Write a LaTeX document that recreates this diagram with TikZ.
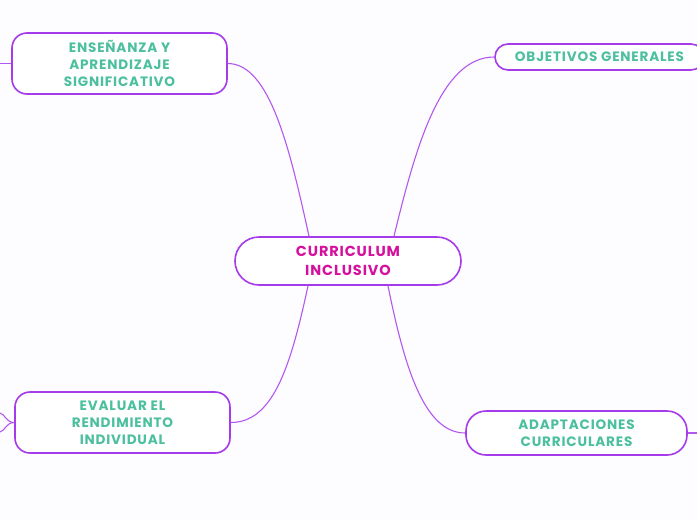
\documentclass[tikz,border=0pt]{standalone}
\usepackage{fontspec}
\setmainfont{Poppins}[LetterSpace=6]
\usepackage{tikz}
\usepackage{xcolor}
\usetikzlibrary{positioning}
\definecolor{mapviolet}{HTML}{A63BEB}
\definecolor{mapteal}{HTML}{4CC09E}
\definecolor{mapmagenta}{HTML}{D4119F}
\definecolor{mapbg}{HTML}{FDFCFE}
\tikzset{
  centralbox/.style={
    draw=mapviolet,
    fill=white,
    line width=1.6pt,
    align=center,
    inner sep=4pt,
    text=mapmagenta,
    font=\fontsize{14.5}{19}\selectfont\bfseries
  },
  topicbox/.style={
    draw=mapviolet,
    fill=white,
    line width=1.6pt,
    rounded corners=15pt,
    align=center,
    inner sep=4pt,
    text=mapteal,
    font=\fontsize{13.6}{17}\selectfont\bfseries
  },
  branch/.style={draw=mapviolet!85, line width=1.1pt}
}

\begin{document}
\begin{tikzpicture}[x=1pt, y=-1pt]
\fill[mapbg] (0,0) rectangle (697,520);
\useasboundingbox (0,0) rectangle (697,520);
\clip (0,0) rectangle (697,520);

\node[centralbox, minimum width=226, minimum height=48, rounded corners=24pt] (core) at (348,261) {CURRICULUM\\INCLUSIVO};

\node[topicbox, minimum width=215, minimum height=61] (ense) at (119.5,63.5) {ENSEÑANZA Y\\APRENDIZAJE\\SIGNIFICATIVO};
\node[topicbox, minimum width=209, minimum height=26, rounded corners=13pt] (obj) at (599.5,57) {OBJETIVOS GENERALES};
\node[topicbox, minimum width=215, minimum height=61] (eval) at (122.5,422.5) {EVALUAR EL\\RENDIMIENTO\\INDIVIDUAL};
\node[topicbox, minimum width=221, minimum height=44, rounded corners=20pt] (adap) at (576.5,433) {ADAPTACIONES\\CURRICULARES};

% free ends of the sub-branches
\coordinate (enseout) at (0,63.5);
\coordinate (evalup) at (0,413);
\coordinate (evaldown) at (0,432);
\coordinate (adapout) at (697,433);

\draw[branch] ([xshift=-39]core.north) .. controls (290,150) and (270,63.5) .. (ense.east);
\draw[branch] ([xshift=46]core.north) .. controls (415,150) and (440,57) .. (obj.west);
\draw[branch] ([xshift=-40]core.south) .. controls (290,370) and (272,422.5) .. (eval.east);
\draw[branch] ([xshift=40]core.south) .. controls (405,370) and (425,433) .. (adap.west);

\draw[branch] (ense.west) -- (enseout);
\draw[branch] (eval.west) .. controls (6,422.5) and (5,414) .. (evalup);
\draw[branch] (eval.west) .. controls (6,422.5) and (5,431) .. (evaldown);
\draw[branch] (adap.east) -- (adapout);
\end{tikzpicture}
\end{document}
